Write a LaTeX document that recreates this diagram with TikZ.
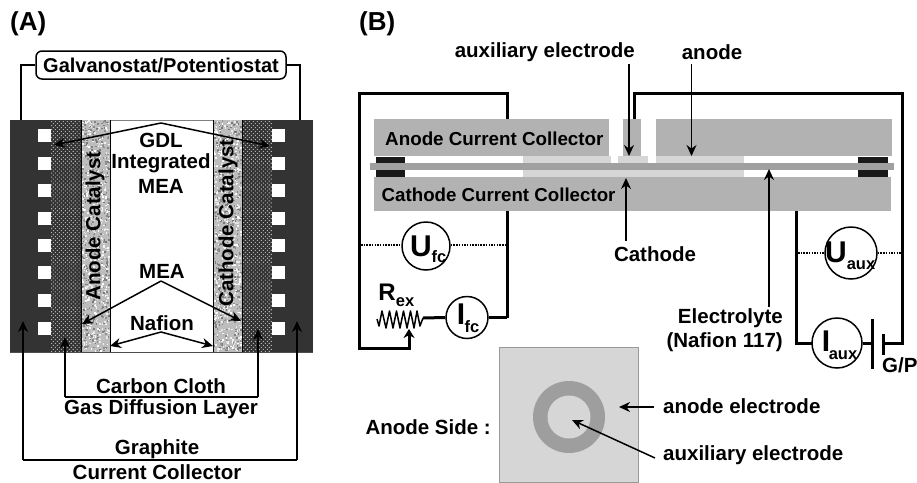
\documentclass[tikz,border=0pt]{standalone}
\usepackage{fontspec}
\setmainfont{Liberation Sans}
\usetikzlibrary{arrows.meta,patterns.meta}
\definecolor{dk}{HTML}{333333}
\definecolor{cg}{HTML}{B2B2B2}
\definecolor{lg}{HTML}{D6D6D6}
\definecolor{mg}{HTML}{A0A0A0}
\tikzset{x=1pt,y=-1pt,
 lbl/.style={font=\bfseries\fontsize{20.5}{22}\selectfont,inner sep=0pt,text=black},
 ptr/.style={draw=black,line width=1.5pt,-{Stealth[length=11pt,width=10pt]}},
 wire/.style={draw=black,line width=3pt,line join=miter},
 thin wire/.style={draw=black,line width=1.5pt},
 dotw/.style={draw=black,line width=1.6pt,dash pattern=on 1.5pt off 1.2pt},
 meter/.style={circle,draw=black,line width=1.5pt,fill=white,inner sep=0pt,minimum size=#1},
 collector/.style={fill=cg,draw=none},
 gasket/.style={fill=black!90,draw=none},
 lightel/.style={fill=lg,draw=none},
 bigl/.style={font=\bfseries\fontsize{30}{30}\selectfont,inner sep=0pt},
 subl/.style={font=\bfseries\fontsize{16.5}{16.5}\selectfont,inner sep=0pt},
 panel/.style={font=\bfseries\fontsize{26}{28}\selectfont,anchor=west,inner sep=0pt}
}
\begin{document}
\begin{tikzpicture}
\useasboundingbox (0,0) rectangle (917,482);
\fill[white] (0,0) rectangle (917,482);
% ---- Panel A
\node[panel] (labelA) at (10,24) {(A)};
\fill[dk] (10,120) rectangle (51,352);
\fill[dk] (272,120) rectangle (313,352);
\foreach \y in {129,157,184,212,239,266,294,322}{
 \fill[white] (38,\y) rectangle (51,\y+12.5);
 \fill[white] (272,\y) rectangle (285,\y+12.5);
}
\foreach \xa/\xb in {51/81,242/272}{
 \fill[black!80] (\xa,120) rectangle (\xb,352);
 \fill[pattern={Dots[distance=2.8pt,radius=.75pt,angle=45]},pattern color=black!30] (\xa,120) rectangle (\xb,352);
}
\pgfmathsetseed{4242}
\foreach \xa in {81,213}{
 \fill[black!26] (\xa,120) rectangle (\xa+29,352);
 \foreach \i in {1,...,900}{
   \pgfmathsetmacro\rx{\xa+rnd*27.5}
   \pgfmathsetmacro\ry{120+rnd*230.5}
   \pgfmathsetmacro\shade{int(rnd*2)*42+(rnd*12)}
   \fill[black!\shade] (\rx,\ry) rectangle (\rx+1.6,\ry+1.6);
 }
}
\draw[line width=.8pt,black!70] (10,352) -- (313,352);
\draw[line width=.8pt,black!50] (110,120) -- (213,120);
\draw[line width=.8pt,black] (110,120) -- (110,352) (213,120) -- (213,352) (81,120) -- (81,352) (242,120) -- (242,352);
\node[rotate=90,lbl] (anodecat) at (95,226) {Anode Catalyst};
\node[rotate=90,lbl] (cathodecat) at (228,223) {Cathode Catalyst};
\node[lbl,font=\bfseries\fontsize{20}{22}\selectfont,draw=black,line width=1.5pt,rounded corners=6pt,minimum width=250pt,minimum height=28pt] (gp) at (161,65) {Galvanostat/Potentiostat};
\coordinate (gl) at (21,120); \coordinate (gr) at (300,120);
\draw[thin wire] (gp.west) -| (gl);
\draw[thin wire] (gp.east) -| (gr);
\node[lbl] (gdl) at (161,140) {GDL};
\node[lbl] (integ) at (161,163) {Integrated};
\node[lbl] (mea1) at (161,186) {MEA};
\node[lbl] (mea2) at (162,271) {MEA};
\node[lbl] (naf) at (162,323) {Nafion};
\node[lbl] (cc) at (161,386) {Carbon Cloth};
\node[lbl] (gd) at (161,409) {Gas Diffusion Layer};
\node[lbl] (gr1) at (157,449) {Graphite};
\node[lbl] (gr2) at (157,472) {Current Collector};
\coordinate (gapex) at (161,123);
\coordinate (g1) at (54,145); \coordinate (g2) at (270,146);
\draw[ptr] (gapex) -- (g1); \draw[ptr] (gapex) -- (g2);
\coordinate (mapex) at (161,281);
\coordinate (m1) at (82,324); \coordinate (m2) at (241,321);
\draw[ptr] (mapex) -- (m1); \draw[ptr] (mapex) -- (m2);
\coordinate (napex) at (161,332);
\coordinate (n1) at (110,346); \coordinate (n2) at (213,346);
\draw[ptr] (napex) -- (n1); \draw[ptr] (napex) -- (n2);
\coordinate (c1) at (65,337); \coordinate (c2) at (258,329);
\draw[ptr] (c1 |- 0,397) -- (c1); \draw[ptr] (c2 |- 0,397) -- (c2);
\draw[thin wire] (65,397) -- (258,397);
\coordinate (h1) at (23,321); \coordinate (h2) at (297,321);
\draw[ptr] (23,460) -- (h1); \draw[ptr] (297,460) -- (h2);
\draw[thin wire] (23,460) -- (297,460);
% ---- Panel B
\node[panel] (labelB) at (359,24) {(B)};
\draw[wire] (507,119) -- (507,93) -- (359,93) -- (359,348) -- (409,348);
\draw[wire,-{Stealth[length=9pt,width=11pt]}] (409,349.5) -- (409,329);
\draw[wire] (634,119) -- (634,93) -- (902.5,93) -- (902.5,343) -- (883,343);
\draw[wire] (507,210) -- (507,318);
\draw[wire] (796,210) -- (796,343) -- (812,343);
% collectors
\fill[collector] (374,119) rectangle (609,156);
\fill[collector] (623,119) rectangle (641,156);
\fill[collector] (656,119) rectangle (892,156);
\fill[collector] (374,176.5) rectangle (891,211);
\fill[gasket] (376,156.5) rectangle (405,162.5);
\fill[gasket] (376,170) rectangle (405,176.5);
\fill[gasket] (858,156.5) rectangle (888,162.5);
\fill[gasket] (858,170) rectangle (888,176.5);
\fill[lightel] (523,156) rectangle (611,163);
\fill[lightel] (618,156) rectangle (648,163);
\fill[lightel] (656,156) rectangle (744,163);
\fill[lightel] (523,170) rectangle (744,176.5);
\fill[mg] (370,163) rectangle (894,170);
\node[lbl,font=\bfseries\fontsize{18.8}{21}\selectfont,anchor=west] (acc) at (385,139) {Anode Current Collector};
\node[lbl,font=\bfseries\fontsize{18.7}{21}\selectfont,anchor=west] (ccc) at (381.5,195) {Cathode Current Collector};
\node[lbl,anchor=east] (auxt) at (635,52) {auxiliary electrode};
\node[lbl] (anot) at (712,52) {anode};
\node[lbl] (catht) at (655,254) {Cathode};
\node[lbl,anchor=east] (ely1) at (783,318) {Electrolyte};
\node[lbl,anchor=east] (ely2) at (783,342) {(Nafion 117)};
\coordinate (a1) at (629,156); \coordinate (a2) at (691.5,156);
\draw[ptr] (a1 |- 0,64) -- (a1);
\draw[ptr] (a2 |- 0,64) -- (a2);
\coordinate (a3) at (626,178); \coordinate (a4) at (769,169);
\draw[ptr] (a3 |- 0,241) -- (a3);
\draw[ptr] (a4 |- 0,307) -- (a4);
% meters
\node[meter=48pt] (ufc) at (426,246) {};
\node[meter=42pt] (ifc) at (467,317.5) {};
\node[meter=52pt] (uaux) at (851,253) {};
\node[meter=50pt] (iaux) at (837,343) {};
\node[bigl] (ufcU) at (421,246) {U};
\node[subl] (ufcs) at (439,257) {fc};
\node[bigl] (ifcI) at (461,314) {I};
\node[subl] (ifcs) at (472,327) {fc};
\node[bigl] (uauxU) at (836,252) {U};
\node[subl] (uauxs) at (861,265) {aux};
\node[bigl] (iauxI) at (826,341) {I};
\node[subl] (iauxs) at (843,355) {aux};
\coordinate (ud1) at (361,245); \coordinate (ud2) at (506,245);
\draw[dotw] (ud1) -- (ufc.west |- ud1);
\draw[dotw] (ufc.east |- ud2) -- (ud2);
\coordinate (vd1) at (798,253); \coordinate (vd2) at (901,253);
\draw[dotw] (vd1) -- (uaux.west);
\draw[dotw] (uaux.east) -- (vd2);
\draw[wire] (ifc.east) -- (507,317.5);
\coordinate (resR) at (423,318);
\draw[line width=1.5pt,draw=black,line join=round] (377,319)
 -- (379,326) -- (382,311) -- (386,328) -- (389.5,311) -- (393,328) -- (396.5,311) -- (400,328) -- (403.5,311) -- (407,328) -- (410.5,311) -- (414,328) -- (417,311) -- (420,326) -- (resR);
\draw[wire] (resR) -- (ifc.west);
\node[font=\bfseries\fontsize{24}{24}\selectfont,inner sep=0pt] (rR) at (387,292) {R};
\node[subl] (rs) at (405,302) {ex};
% battery
\draw[wire] (iaux.east) -- (872,343);
\coordinate (p1a) at (872,319); \coordinate (p1b) at (872,369);
\coordinate (p2a) at (883,334); \coordinate (p2b) at (883,355);
\draw[wire] (p1a) -- (p1b);
\draw[wire] (p2a) -- (p2b);
\node[lbl,anchor=west] (gpl) at (882,365) {G/P};
% anode side
\fill[lg,draw=black!40,line width=.7pt] (499,482) rectangle (638,347.5);
\node[lbl,anchor=east] (side) at (491,427) {Anode Side :};
\fill[black!38] (569,417) circle (36);
\fill[lg] (569,417) circle (21.5);
\node[lbl,anchor=west] (aet) at (663,406) {anode electrode};
\node[lbl,anchor=west] (axt) at (663,455) {auxiliary electrode};
\coordinate (t1) at (619,407); \coordinate (t2) at (572,420);
\draw[ptr] (aet.west) ++(-9,1) -- (t1);
\draw[ptr] (axt.west) ++(-8,3) -- (t2);
\end{tikzpicture}
\end{document}
